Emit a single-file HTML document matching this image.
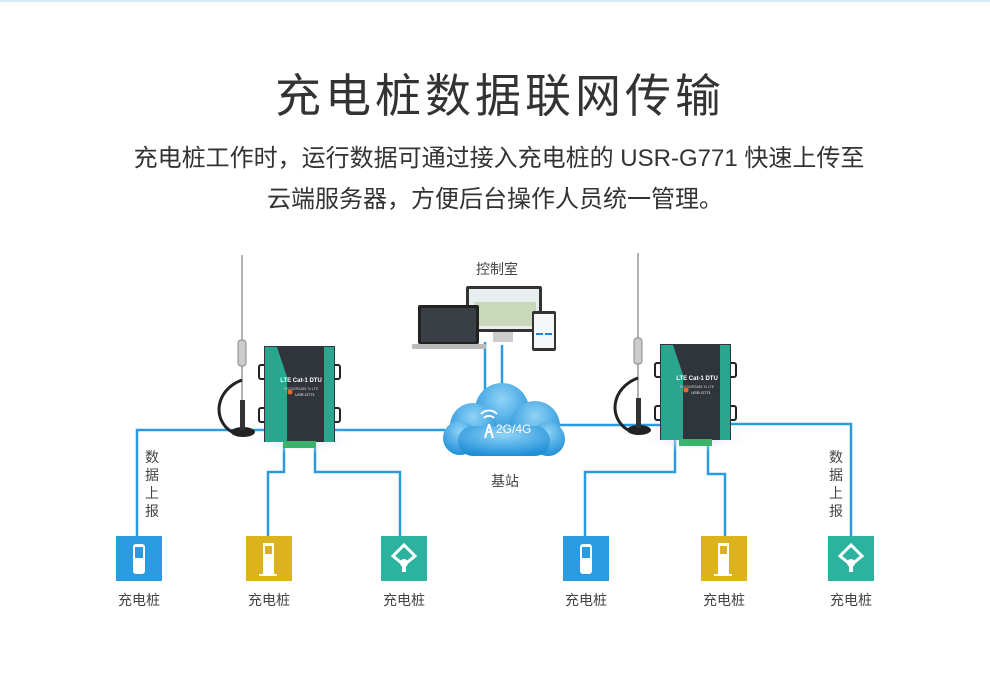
<!DOCTYPE html>
<html><head><meta charset="utf-8"><style>
body{margin:0;background:#fff}
svg{display:block}
text{font-family:"Liberation Sans","Noto Sans CJK SC",sans-serif}
</style></head><body>
<svg width="990" height="678" viewBox="0 0 990 678" xmlns="http://www.w3.org/2000/svg">
<defs>
<radialGradient id="cl" cx="50%" cy="30%" r="70%"><stop offset="0" stop-color="#8fd3f7"/><stop offset="1" stop-color="#1f8fd8"/></radialGradient>
<radialGradient id="glow" cx="50%" cy="50%" r="50%"><stop offset="0" stop-color="#c8c8f5" stop-opacity=".8"/><stop offset="1" stop-color="#fff" stop-opacity="0"/></radialGradient>
</defs>
<rect x="0" y="0" width="990" height="2" fill="#d8ebfa"/>
<text x="500" y="112" font-size="46" fill="#333" text-anchor="middle" letter-spacing="4">充电桩数据联网传输</text>
<text x="499" y="166" font-size="24" fill="#333" text-anchor="middle">充电桩工作时，运行数据可通过接入充电桩的 USR-G771 快速上传至</text>
<text x="495" y="207" font-size="24" fill="#333" text-anchor="middle">云端服务器，方便后台操作人员统一管理。</text>

<g stroke="#2b9be0" stroke-width="2.5" fill="none">
<path d="M137 536V430H445"/>
<path d="M284 445V472H268V536"/>
<path d="M315 445V472H400V536"/>
<path d="M560 425H662"/>
<path d="M731 424H851V536"/>
<path d="M675 440V472H585V536"/>
<path d="M708 440V474H725V536"/>
<path d="M485 395V342M502 395V345"/>
</g>

<text x="497" y="274" font-size="14" fill="#444" text-anchor="middle">控制室</text>
<rect x="466" y="286" width="76" height="46" rx="2" fill="#333"/>
<rect x="469" y="289" width="70" height="40" fill="#e8eef0"/>
<rect x="474" y="302" width="62" height="24" fill="#c9d8b8"/>
<rect x="493" y="332" width="20" height="10" fill="#ccc"/>
<rect x="418" y="305" width="61" height="39" rx="2" fill="#222"/>
<rect x="421" y="308" width="55" height="34" fill="#3a3f45"/>
<rect x="412" y="344" width="74" height="5" rx="1" fill="#bbb"/>
<rect x="532" y="311" width="24" height="40" rx="2" fill="#333"/>
<rect x="534" y="314" width="20" height="34" fill="#f4f6f8"/>
<rect x="536" y="333" width="7" height="2" fill="#2b7ed8"/><rect x="545" y="333" width="7" height="2" fill="#2b7ed8"/>

<g fill="url(#cl)">
<circle cx="502" cy="410" r="27"/><circle cx="473" cy="426" r="23"/><circle cx="535" cy="426" r="25"/>
<circle cx="460" cy="438" r="17"/><circle cx="548" cy="439" r="17"/>
<rect x="458" y="426" width="92" height="30" rx="15"/>
</g>
<text x="496" y="433" font-size="12" fill="#fff">2G/4G</text>
<path d="M489 424l-4 14M489 424l4 14M486 432h6" stroke="#fff" stroke-width="2" fill="none"/>
<path d="M484 418a7 7 0 0 1 10 0M481 414a11 11 0 0 1 16 0" stroke="#fff" stroke-width="2" fill="none"/>
<text x="505" y="486" font-size="14" fill="#444" text-anchor="middle">基站</text>

<g id="dev">
<ellipse cx="300" cy="440" rx="60" ry="14" fill="url(#glow)"/>
<line x1="242" y1="255" x2="242" y2="425" stroke="#999" stroke-width="1.5"/>
<rect x="238" y="340" width="8" height="26" rx="3" fill="#ccc" stroke="#888"/>
<path d="M242 380C215 390 212 420 232 432" stroke="#222" stroke-width="3" fill="none"/>
<ellipse cx="243" cy="432" rx="12" ry="5" fill="#222"/>
<rect x="240" y="400" width="5" height="30" fill="#333"/>
<rect x="259" y="365" width="8" height="14" rx="2" fill="#fff" stroke="#222" stroke-width="2"/>
<rect x="259" y="408" width="8" height="14" rx="2" fill="#fff" stroke="#222" stroke-width="2"/>
<rect x="332" y="365" width="8" height="14" rx="2" fill="#fff" stroke="#222" stroke-width="2"/>
<rect x="332" y="408" width="8" height="14" rx="2" fill="#fff" stroke="#222" stroke-width="2"/>
<rect x="264" y="346" width="71" height="96" fill="#30353b"/>
<path d="M265 347h12l10 30v65h-22z" fill="#2aa58e"/>
<path d="M334 347h-10v95h10z" fill="#2aa58e"/>
<rect x="283" y="441" width="33" height="7" fill="#3bb36a"/>
<text x="301" y="382" font-size="6" fill="#fff" font-weight="bold" text-anchor="middle">LTE Cat-1 DTU</text>
<text x="301" y="390" font-size="3.5" fill="#ccc" text-anchor="middle">RS232/RS485 To LTE</text>
<text x="305" y="396" font-size="4" fill="#fff" text-anchor="middle">USR-G771</text>
<circle cx="290" cy="392" r="2.5" fill="#e86a2a"/>
</g>
<use href="#dev" transform="translate(396,-2)"/>

<g font-size="14" fill="#444" text-anchor="middle">
<text x="152" y="462">数</text><text x="152" y="480">据</text><text x="152" y="498">上</text><text x="152" y="516">报</text>
<text x="836" y="462">数</text><text x="836" y="480">据</text><text x="836" y="498">上</text><text x="836" y="516">报</text>
</g>

<g id="b1"><rect x="116" y="536" width="46" height="45" fill="#2a9be0"/>
<rect x="133" y="544" width="12" height="30" rx="3" fill="#fff"/><rect x="135" y="547" width="8" height="11" fill="#2a9be0"/></g>
<use href="#b1" transform="translate(447,0)"/>
<g id="b2"><rect x="246" y="536" width="46" height="45" fill="#dcb21d"/>
<rect x="263" y="543" width="11" height="32" fill="#fff"/><rect x="265" y="546" width="7" height="8" fill="#dcb21d"/><rect x="259" y="574" width="18" height="2" fill="#fff"/></g>
<use href="#b2" transform="translate(455,0)"/>
<g id="b3"><rect x="381" y="536" width="46" height="45" fill="#2cb3a0"/>
<path d="M404 545l11 11-11 9-11-9z" fill="none" stroke="#fff" stroke-width="3"/><circle cx="404" cy="563" r="4" fill="#fff"/><rect x="402" y="566" width="4" height="6" fill="#fff"/></g>
<use href="#b3" transform="translate(447,0)"/>
<g font-size="14" fill="#444" text-anchor="middle">
<text x="139" y="605">充电桩</text><text x="269" y="605">充电桩</text><text x="404" y="605">充电桩</text>
<text x="586" y="605">充电桩</text><text x="724" y="605">充电桩</text><text x="851" y="605">充电桩</text>
</g>
</svg>
</body></html>
